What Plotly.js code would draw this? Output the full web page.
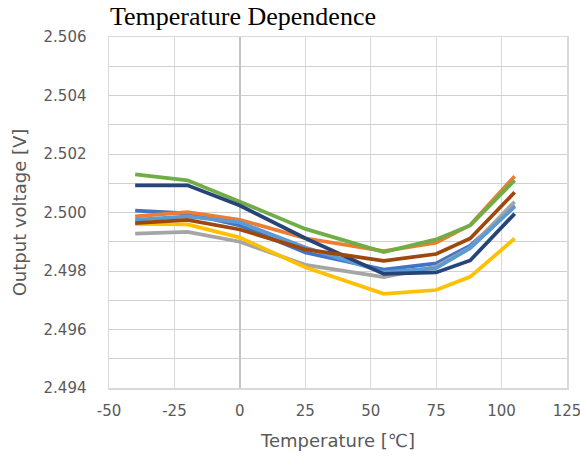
<!DOCTYPE html>
<html>
<head>
<meta charset="utf-8">
<script src="https://cdn.plot.ly/plotly-3.0.1.min.js"></script>
<style>html,body{margin:0;padding:0;background:#fff;}#chart{width:580px;height:458px;}</style>
</head>
<body>
<div id="chart"></div>
<script>
const temperatures = [-40, -20, 0, 25, 55, 75, 88, 105];
const seriesBlue      = [2.50006, 2.49997, 2.49956, 2.49863, 2.49805, 2.49826, 2.49887, 2.50023];
const seriesOrange    = [2.49987, 2.50001, 2.49975, 2.49912, 2.49868, 2.49897, 2.49957, 2.50124];
const seriesGray      = [2.49928, 2.49934, 2.49900, 2.49821, 2.49779, 2.49815, 2.49880, 2.50037];
const seriesYellow    = [2.49961, 2.49959, 2.49914, 2.49813, 2.49722, 2.49735, 2.49780, 2.49911];
const seriesLightBlue = [2.49975, 2.49987, 2.49966, 2.49880, 2.49796, 2.49810, 2.49878, 2.50020];
const seriesGreen     = [2.50130, 2.50110, 2.50037, 2.49944, 2.49865, 2.49908, 2.49956, 2.50110];
const seriesNavy      = [2.50093, 2.50093, 2.50024, 2.49912, 2.49790, 2.49795, 2.49836, 2.49996];
const seriesBrown     = [2.49964, 2.49975, 2.49942, 2.49874, 2.49835, 2.49858, 2.49911, 2.50069];
const xTickValues = [-50, -25, 0, 25, 50, 75, 100, 125];
const xTickLabels = ["-50", "-25", "0", "25", "50", "75", "100", "125"];
const yTickValues = [2.494, 2.495, 2.496, 2.497, 2.498, 2.499, 2.500, 2.501, 2.502, 2.503, 2.504, 2.505, 2.506];
const yTickLabels = ["2.494", "", "2.496", "", "2.498", "", "2.500", "", "2.502", "", "2.504", "", "2.506"];

const series = [
  [seriesBlue, '#4472C4'],
  [seriesOrange, '#ED7D31'],
  [seriesGray, '#A5A5A5'],
  [seriesYellow, '#FFC000'],
  [seriesLightBlue, '#5B9BD5'],
  [seriesGreen, '#70AD47'],
  [seriesNavy, '#264478'],
  [seriesBrown, '#9E480E']
];

const traces = series.map(([vals, col]) => ({
  x: temperatures, y: vals, type: 'scatter', mode: 'lines',
  line: {color: col, width: 3.75}, hoverinfo: 'skip'
}));

const tickFont = {family: 'DejaVu Sans', size: 15, color: '#595959'};
const layout = {
  width: 580, height: 458,
  margin: {l: 109, r: 13, t: 37, b: 70, pad: 0},
  paper_bgcolor: '#fff', plot_bgcolor: '#fff',
  showlegend: false,
  title: {text: 'Temperature Dependence', font: {family: 'Liberation Serif', size: 26, color: '#000'},
          xref: 'container', yref: 'container', x: 110/580, xanchor: 'left', y: 1 - 16/458, yanchor: 'middle'},
  xaxis: {
    range: [-50, 125], tickmode: 'array', tickvals: xTickValues, ticktext: xTickLabels,
    tickfont: tickFont, ticks: 'outside', ticklen: 8, tickcolor: 'rgba(0,0,0,0)', ticklabeloverflow: 'allow',
    showgrid: true, gridcolor: '#D9D9D9', gridwidth: 1,
    zeroline: true, zerolinecolor: '#C4C4C4', zerolinewidth: 1.5,
    showline: true, linecolor: '#D9D9D9', linewidth: 1.5, mirror: true,
    title: {text: 'Temperature [℃]', font: {family: 'DejaVu Sans', size: 18, color: '#595959'}, standoff: 16},
    automargin: false, fixedrange: true
  },
  yaxis: {
    range: [2.494, 2.506], tickmode: 'array', tickvals: yTickValues, ticktext: yTickLabels,
    tickfont: tickFont, ticks: 'outside', ticklen: 18, tickcolor: 'rgba(0,0,0,0)',
    showgrid: true, gridcolor: '#D0D0D0', gridwidth: 1,
    zeroline: false,
    showline: true, linecolor: '#D9D9D9', linewidth: 1.5, mirror: true,
    title: {text: 'Output voltage [V]', font: {family: 'DejaVu Sans', size: 18, color: '#595959'}, standoff: 12},
    automargin: false, fixedrange: true
  }
};

Plotly.newPlot('chart', traces, layout, {staticPlot: true, displayModeBar: false});
</script>
</body>
</html>
